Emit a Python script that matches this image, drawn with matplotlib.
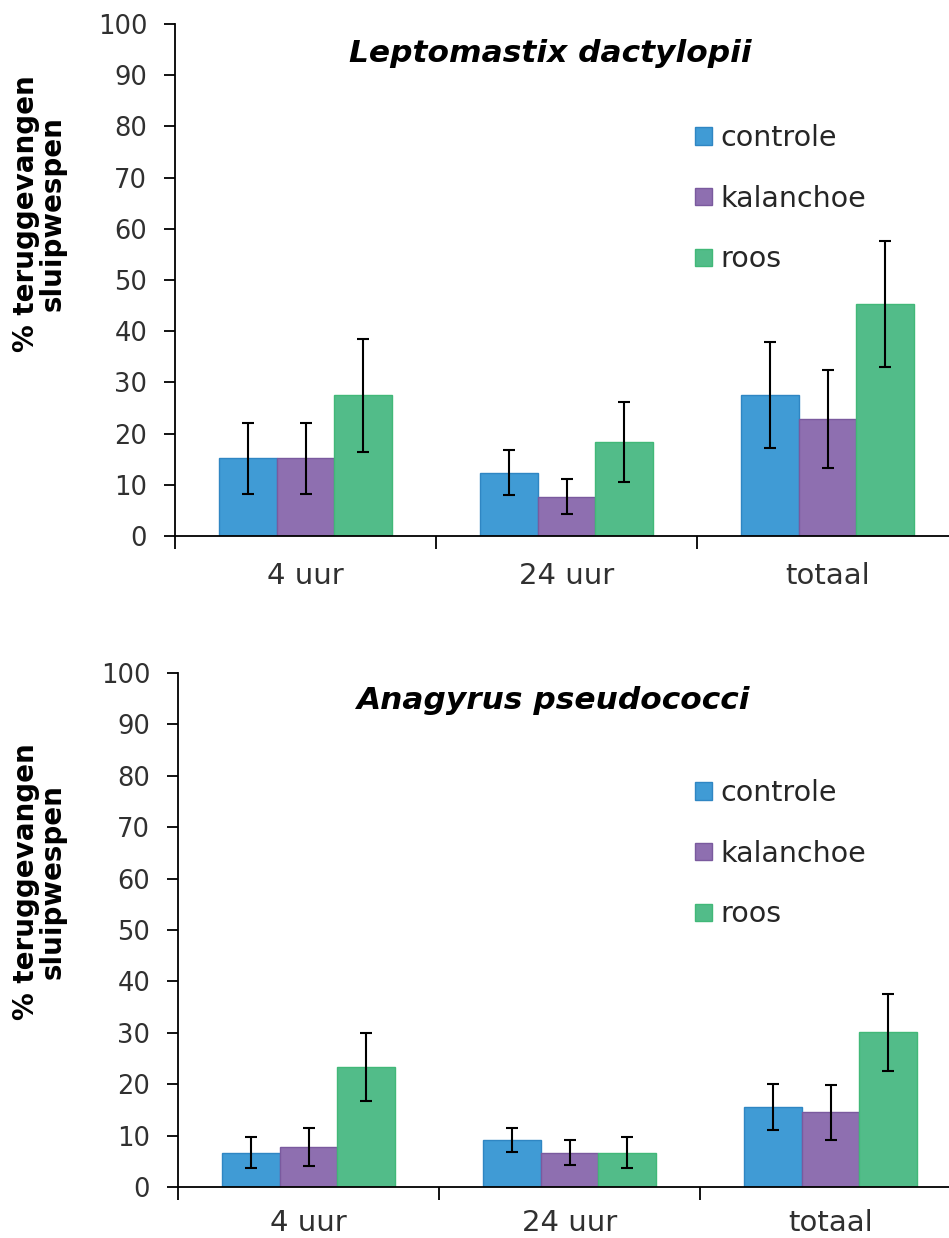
import numpy as np
import matplotlib.pyplot as plt

categories = ['4 uur', '24 uur', 'totaal']
series = ['controle', 'kalanchoe', 'roos']
colors = ['#409BD5', '#8E6FB0', '#52BC89']
edges = ['#2F86C3', '#7A5A9E', '#41B878']

# Leptomastix dactylopii: rows = series, cols = categories
lepto_vals = [[15.2, 12.4, 27.5], [15.2, 7.7, 22.9], [27.5, 18.3, 45.4]]
lepto_err = [[6.9, 4.4, 10.4], [6.9, 3.5, 9.6], [11.0, 7.8, 12.3]]
# Anagyrus pseudococci
ana_vals = [[6.7, 9.2, 15.5], [7.7, 6.7, 14.5], [23.3, 6.7, 30.1]]
ana_err = [[3.0, 2.3, 4.5], [3.7, 2.5, 5.4], [6.6, 3.0, 7.5]]

plt.rcParams['font.family'] = 'DejaVu Sans'
fig = plt.figure(figsize=(9.49, 12.38), dpi=100)

w = 0.222
x = np.arange(len(categories))


def draw(ax, vals, errs, title, title_y, lab_y, leg_y, xpad):
    for j in range(3):
        ax.bar(x + (j - 1) * w, vals[j], w, color=colors[j], edgecolor=edges[j],
               linewidth=1, label=series[j], zorder=2)
        ax.errorbar(x + (j - 1) * w, vals[j], yerr=errs[j], fmt='none',
                    ecolor='black', elinewidth=1.5, capsize=4, capthick=1.5, zorder=3)
    ax.set_xlim(-0.5, 2.5)
    ax.set_ylim(0, 100)
    ax.set_yticks(range(0, 101, 10))
    ax.set_xticks(x)
    ax.set_xticklabels(categories)
    ax.set_xticks([-0.5, 0.5, 1.5, 2.5], minor=True)
    ax.tick_params(axis='x', which='major', length=0, pad=xpad, labelsize=21, labelcolor='#303030')
    ax.tick_params(axis='x', which='minor', length=9, width=1.3, direction='out')
    ax.tick_params(axis='y', length=8, width=1.3, pad=12, labelsize=18.5, labelcolor='#303030')
    for s in ['top', 'right']:
        ax.spines[s].set_visible(False)
    for s in ['left', 'bottom']:
        ax.spines[s].set_linewidth(1.3)
    ax.text(0.479, title_y, title, transform=ax.transAxes, ha='center', va='center',
            fontsize=22.5, fontweight='bold', style='italic')
    fig.text(39 / 949, lab_y, '% teruggevangen\nsluipwespen', rotation=90,
             ha='center', va='center', multialignment='center',
             fontsize=20, fontweight='bold', linespacing=0.95)
    leg = ax.legend(loc='upper left', bbox_to_anchor=(695 / 949, leg_y),
                    bbox_transform=fig.transFigure, frameon=False, fontsize=20.5,
                    handlelength=0.6, handleheight=0.55, handletextpad=0.3,
                    labelspacing=1.15, borderpad=0, borderaxespad=0)
    for t in leg.get_texts():
        t.set_color('#262626')


ax1 = fig.add_axes([175 / 949, 1 - 536 / 1238, 783 / 949, 512 / 1238])
draw(ax1, lepto_vals, lepto_err, 'Leptomastix dactylopii', 0.943, 1 - 214 / 1238, 1 - 124 / 1238, 19)

ax2 = fig.add_axes([178 / 949, 1 - 1187 / 1238, 783 / 949, 514 / 1238])
draw(ax2, ana_vals, ana_err, 'Anagyrus pseudococci', 0.947, 1 - 882 / 1238, 1 - 779 / 1238, 16)

fig.savefig('out.png', dpi=100)
